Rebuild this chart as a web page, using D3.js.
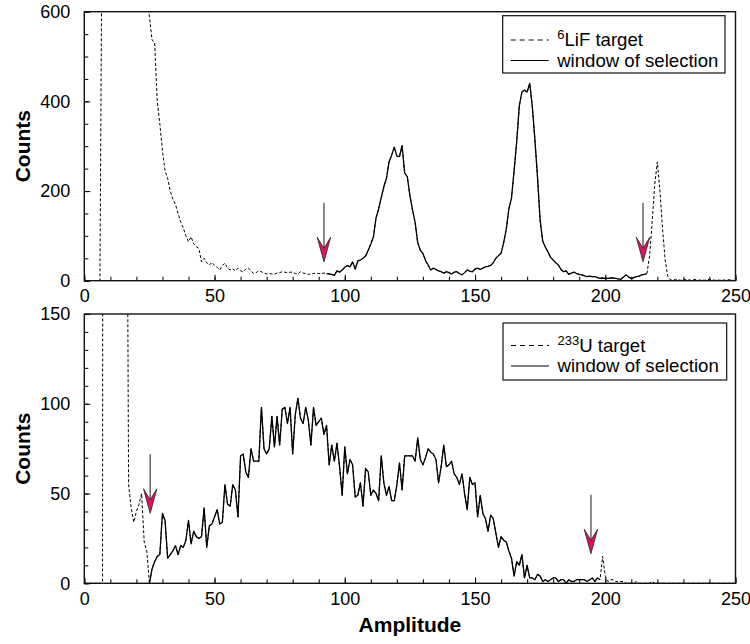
<!DOCTYPE html>
<html><head><meta charset="utf-8">
<script src="https://cdn.jsdelivr.net/npm/d3@7"></script>
<style>body{margin:0;background:#fff} text{font-family:"Liberation Sans",Arial,Helvetica,sans-serif;fill:#000}</style>
</head><body><svg id="c" width="750" height="644"></svg>
<script>
// ---------- data ----------
const xTickLabels = [0, 50, 100, 150, 200, 250];
const lifYTicks = [0, 200, 400, 600];
const uYTicks = [0, 50, 100, 150];

// 6LiF target spectrum, counts per amplitude channel 0..250
const lifTarget = [
  0,0,0,0,0,0,0,1000,1450,1700,
  1850,1800,1650,1500,1380,1250,1130,1020,930,860,
  800,740,700,660,630,590,537,532,400,350,
  290,245,228,200,182,170,150,131,118,100,
  87,98,82,76,72,42,50,40,35,41,
  34,30,24,34,39,28,24,27,22,28,
  22,20,26,28,22,16,18,22,20,17,
  15,16,15,15,17,18,20,19,18,19,
  19,16,15,20,17,16,14,15,16,17,
  16,16,17,16,15,14,12,22,19,24,
  30,34,31,42,26,44,46,50,55,68,
  82,98,140,160,185,210,228,265,280,298,
  278,277,301,240,232,190,158,130,85,68,
  61,45,35,24,28,25,22,20,17,20,
  18,15,19,20,16,13,18,24,21,20,
  26,28,25,28,31,32,34,40,50,56,
  61,85,115,160,184,245,310,390,421,425,
  421,440,388,314,230,135,88,75,64,52,
  46,40,35,25,20,22,14,17,19,16,
  14,13,11,9,10,9,9,7,5,6,
  5,5,6,6,5,4,3,8,13,8,
  5,7,9,10,13,14,16,55,130,215,
  265,200,115,46,10,2,1,3,2,1,
  3,2,2,1,3,2,1,2,1,2,
  3,2,1,2,1,2,1,2,2,1,
  0
];
// 233U target spectrum, counts per amplitude channel 0..250
const uTarget = [
  0,0,0,0,0,0,0,0,2600,2300,
  1900,1500,1150,900,700,520,380,55,42,34,
  40,44,50,23,18,0,8,12,15,16,
  39,35,14,16,18,21,16,21,20,24,
  35,22,29,26,25,26,42,20,32,33,
  37,41,33,34,55,44,43,55,52,37,
  71,72,62,59,75,68,68,68,98,75,
  72,75,93,76,93,77,97,98,89,98,
  72,94,103,92,89,98,91,77,98,88,
  90,92,83,88,66,77,68,78,65,49,
  76,61,69,66,48,49,56,43,64,62,
  49,52,50,46,71,56,49,54,46,46,
  55,67,52,71,71,71,71,68,81,69,
  66,70,75,73,72,69,56,65,77,65,
  66,68,61,59,55,61,50,41,59,55,
  56,37,49,39,36,29,38,36,28,20,
  26,24,23,18,14,4,12,10,16,3,
  10,3,3,2,5,4,1,2,1,2,
  3,3,1,2,2,0,2,1,1,2,
  2,2,2,1,2,3,1,3,2,15,
  4,1,2,2,1,1,1,1,0,0,
  0,0,1,0,0,0,0,0,1,0,
  0,0,0,0,0,0,0,0,0,0,
  0,0,0,0,0,0,0,0,0,0,
  0,0,0,0,0,0,0,0,0,0,
  0
];
// windows of selection (amplitude channel range)
const lifWindow = [93, 216];
const uWindow = [25, 198];
// selection arrows: amplitude and count at arrow tip
const lifArrowX = [92, 214.5];
const lifArrowTip = [42, 42];
const uArrowX = [25.3, 194.5];
const uArrowTip = [39, 16.5];
const lifLegend = [["6", "LiF target"], ["", "window of selection"]];
const uLegend = [["233", "U target"], ["", "window of selection"]];

// ---------- drawing ----------
const svg = d3.select("#c");
const L = 84.3, R = 735.5;
const x = d3.scaleLinear().domain([0, 250]).range([L, R]);
const FONT = '"Liberation Sans",Arial,Helvetica,sans-serif';

function panel(cfg, idx) {
  const y = d3.scaleLinear().domain([0, cfg.yMax]).range([cfg.bottom, cfg.top]);
  const g = svg.append("g");
  const cid = "clip" + idx;
  svg.append("defs").append("clipPath").attr("id", cid)
    .append("rect").attr("x", L).attr("y", cfg.top).attr("width", R - L).attr("height", cfg.bottom - cfg.top);

  // minor ticks
  const xMinor = d3.axisBottom(x).tickValues(d3.range(0, 251, 10)).tickSize(-4).tickFormat("");
  g.append("g").attr("transform", `translate(0,${cfg.bottom})`).call(xMinor)
    .call(s => s.select(".domain").remove());
  const yMinor = d3.axisLeft(y).tickValues(d3.range(0, cfg.yMax + 0.1, cfg.minor)).tickSize(-4).tickFormat("");
  g.append("g").attr("transform", `translate(${L},0)`).call(yMinor)
    .call(s => s.select(".domain").remove());

  // major ticks and labels
  const xAx = d3.axisBottom(x).tickValues(xTickLabels).tickSize(-6).tickPadding(9).tickFormat(d3.format("d"));
  g.append("g").attr("transform", `translate(0,${cfg.bottom})`).call(xAx)
    .call(s => s.select(".domain").remove())
    .call(s => s.selectAll("text").style("font-size", "18px").style("font-family", FONT).attr("fill", "#000"));
  const yAx = d3.axisLeft(y).tickValues(cfg.yTicks).tickSize(-6).tickPadding(14).tickFormat(d3.format("d"));
  g.append("g").attr("transform", `translate(${L},0)`).call(yAx)
    .call(s => s.select(".domain").remove())
    .call(s => s.selectAll("text").style("font-size", "18px").style("font-family", FONT).attr("fill", "#000"));
  g.selectAll(".tick line").attr("stroke", "#111").attr("stroke-width", 1.1);

  // series
  const pts = cfg.data.map((v, i) => [i, v]);
  const line = d3.line().x(d => x(d[0])).y(d => y(d[1]));
  const lg = g.append("g").attr("clip-path", `url(#${cid})`);
  lg.append("path").attr("d", line(pts)).attr("fill", "none")
    .attr("stroke", "#000").attr("stroke-width", 1).attr("stroke-dasharray", "3,2");
  const win = pts.filter(d => d[0] >= cfg.win[0] && d[0] <= cfg.win[1]);
  lg.append("path").attr("d", line(win)).attr("fill", "none")
    .attr("stroke", "#000").attr("stroke-width", 1.3).attr("stroke-linejoin", "round");

  // frame
  g.append("rect").attr("x", L).attr("y", cfg.top).attr("width", R - L).attr("height", cfg.bottom - cfg.top)
    .attr("fill", "none").attr("stroke", "#111").attr("stroke-width", 1.4);

  // arrows
  cfg.arrowX.forEach((ax, i) => {
    const px = x(ax), ty = y(cfg.arrowTip[i]);
    g.append("line").attr("x1", px).attr("x2", px).attr("y1", ty - 59).attr("y2", ty - 14)
      .attr("stroke", "#6e6e6e").attr("stroke-width", 1.6);
    g.append("path")
      .attr("d", `M${px - 6.7},${ty - 24.5} L${px},${ty} L${px + 6.7},${ty - 24.5} L${px},${ty - 13.5} Z`)
      .attr("fill", "#e0115f").attr("stroke", "#222").attr("stroke-width", 0.8).attr("stroke-linejoin", "miter");
  });

  // y label
  g.append("text").attr("transform", `translate(30,${(cfg.top + cfg.bottom) / 2}) rotate(-90)`)
    .attr("text-anchor", "middle").style("font-size", "21px").style("font-weight", "bold").text("Counts");

  // legend
  const lgd = cfg.legend;
  g.append("rect").attr("x", lgd.x).attr("y", lgd.y).attr("width", lgd.w).attr("height", lgd.h)
    .attr("fill", "#fff").attr("stroke", "#111").attr("stroke-width", 1.2);
  cfg.legendItems.forEach((it, i) => {
    const ly = lgd.y + lgd.row0 + i * 20.5;
    g.append("line").attr("x1", lgd.x + 8).attr("x2", lgd.x + 46).attr("y1", ly).attr("y2", ly)
      .attr("stroke", "#000").attr("stroke-width", i === 0 ? 1 : 1.2)
      .attr("stroke-dasharray", i === 0 ? "5,4" : null);
    const t = g.append("text").attr("x", lgd.x + 54.5).attr("y", ly + 6).style("font-size", "18.6px");
    if (it[0]) {
      t.append("tspan").text(it[0]).style("font-size", "13px").attr("dy", -7);
      t.append("tspan").text(it[1]).attr("dy", 7);
    } else {
      t.text(it[1]);
    }
  });
  return y;
}

panel({ top: 11.7, bottom: 280.7, yMax: 600, yTicks: lifYTicks, minor: 50, data: lifTarget, win: lifWindow,
  arrowX: lifArrowX, arrowTip: lifArrowTip, legendItems: lifLegend,
  legend: { x: 502.7, y: 15.7, w: 222.3, h: 57.3, row0: 24.3 } }, 0);
panel({ top: 314, bottom: 583.3, yMax: 150, yTicks: uYTicks, minor: 10, data: uTarget, win: uWindow,
  arrowX: uArrowX, arrowTip: uArrowTip, legendItems: uLegend,
  legend: { x: 503, y: 323, w: 223.7, h: 57, row0: 22.5 } }, 1);

svg.append("text").attr("x", (L + R) / 2).attr("y", 632).attr("text-anchor", "middle")
  .style("font-size", "21px").style("font-weight", "bold").text("Amplitude");
</script></body></html>
